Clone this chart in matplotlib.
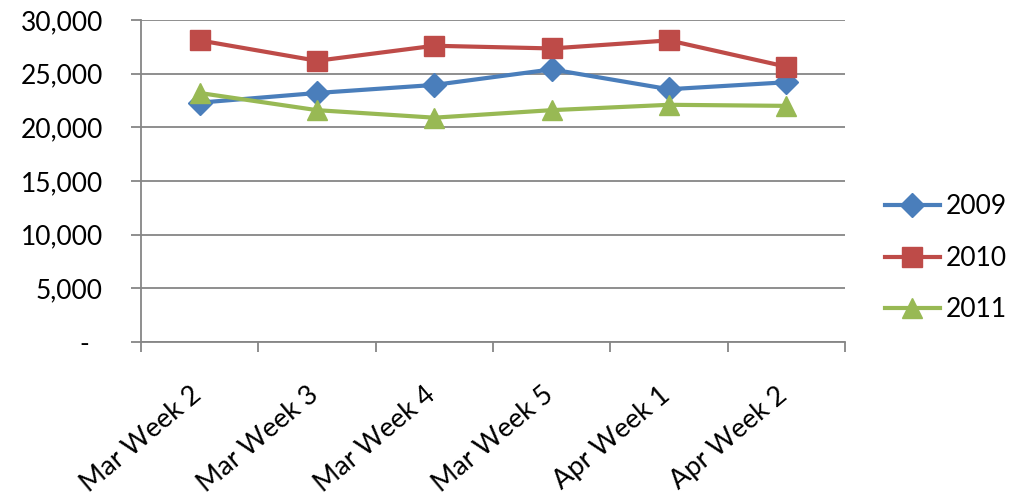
import matplotlib.pyplot as plt
import matplotlib.ticker as ticker
from matplotlib.transforms import ScaledTranslation

# Dados
semanas = ['Mar Week 2', 'Mar Week 3', 'Mar Week 4', 'Mar Week 5', 'Apr Week 1', 'Apr Week 2']
v2009 = [22300, 23200, 23950, 25400, 23550, 24200]
v2010 = [28100, 26200, 27600, 27350, 28100, 25650]
v2011 = [23200, 21600, 20900, 21600, 22100, 22000]
anos = ['2009', '2010', '2011']

plt.rcParams['font.family'] = ['Lato', 'DejaVu Sans']

fig = plt.figure(figsize=(10.23, 5.0), dpi=100)
ax = fig.add_axes([141/1023, 1 - 342/500, (845 - 141)/1023, (342 - 20)/500])

x = list(range(len(semanas)))
ax.plot(x, v2009, color='#4A7EBB', lw=3, marker='D', ms=12, label=anos[0])
ax.plot(x, v2010, color='#BE4B48', lw=3, marker='s', ms=14, label=anos[1])
ax.plot(x, v2011, color='#98B954', lw=3, marker='^', ms=14, label=anos[2])

ax.set_xlim(-0.5, len(semanas) - 0.5)
ax.set_ylim(0, 30000)

# grade e eixos
ax.yaxis.set_major_locator(ticker.MultipleLocator(5000))
ax.yaxis.set_major_formatter(ticker.FuncFormatter(lambda v, p: '-  ' if v == 0 else f'{int(v):,}'))
ax.grid(axis='y', color='#868686', lw=1.3)
ax.set_axisbelow(True)
for s in ['top', 'right']:
    ax.spines[s].set_visible(False)
for s in ['left', 'bottom']:
    ax.spines[s].set_color('#868686')
    ax.spines[s].set_linewidth(1.3)

ax.set_xticks([i - 0.5 for i in range(len(semanas) + 1)], minor=False)
ax.set_xticklabels([])
ax.set_xticks(x, minor=True)
ax.set_xticklabels(semanas, minor=True, rotation=40, ha='right', va='center',
                   rotation_mode='anchor', fontsize=19.5)
ax.tick_params(axis='x', which='major', length=7.5, width=1.3, color='#868686')
ax.tick_params(axis='x', which='minor', length=0, pad=0)
ax.tick_params(axis='y', length=7.5, width=1.3, color='#868686', labelsize=19, pad=20)

for lab in ax.get_xticklabels(minor=True):
    lab.set_transform(lab.get_transform() + ScaledTranslation(-2/100, -50/100, fig.dpi_scale_trans))

leg = ax.legend(loc='center left', bbox_to_anchor=(1.0, 0.26), frameon=False, fontsize=19,
                handlelength=2.1, handletextpad=0.2, labelspacing=1.0, borderaxespad=1.1)

fig.savefig('out.png', dpi=100)
